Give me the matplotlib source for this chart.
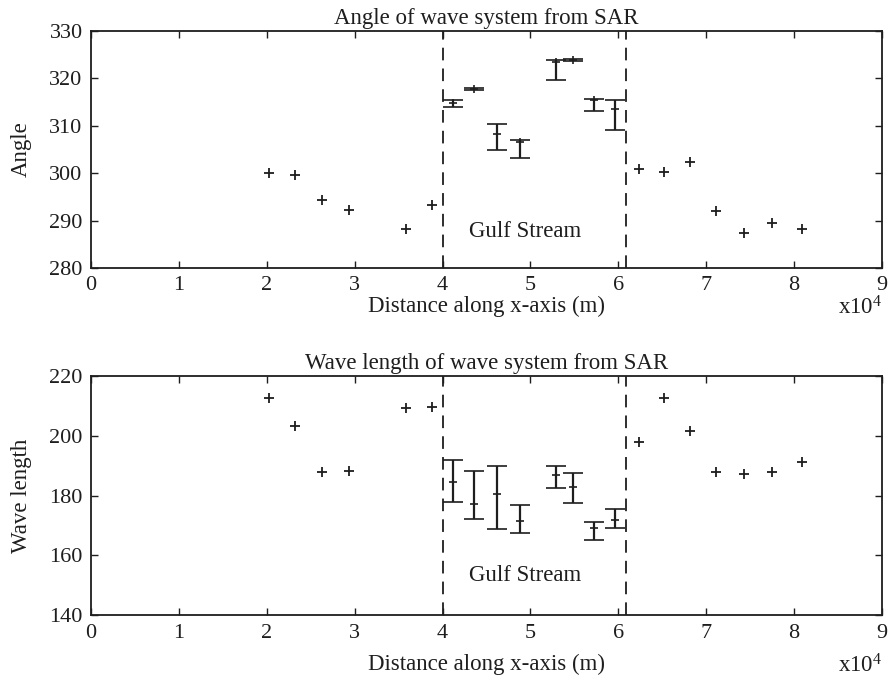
import matplotlib
matplotlib.use('Agg')

import matplotlib.pyplot as plt
import numpy as np
from matplotlib import rcParams

rcParams['font.family'] = 'serif'
rcParams['font.serif'] = ['Liberation Serif', 'DejaVu Serif']
rcParams['mathtext.fontset'] = 'custom'
rcParams['mathtext.rm'] = 'Liberation Serif'

# Distance along track, in units of 1e4 m
x_out = [2.02, 2.32, 2.63, 2.94, 3.58, 3.88, 6.24, 6.52, 6.81, 7.11, 7.43, 7.75, 8.09]
x_gs = [4.12, 4.36, 4.62, 4.88, 5.29, 5.48, 5.72, 5.96]

# Angle of wave system (deg)
angle_out = [300.1, 299.7, 294.4, 292.3, 288.2, 293.3, 300.8, 300.2, 302.3, 292.0, 287.3, 289.5, 288.3]
angle_gs = [314.7, 317.8, 308.3, 306.5, 323.4, 323.8, 315.3, 313.5]
angle_gs_lo = [314.0, 317.6, 304.9, 303.2, 319.6, 323.6, 313.0, 309.0]
angle_gs_hi = [315.3, 318.0, 310.4, 307.0, 323.8, 324.0, 315.7, 315.3]

# Wave length (m)
length_out = [212.7, 203.3, 188.0, 188.2, 209.2, 209.5, 198.0, 212.5, 201.7, 188.0, 187.1, 187.8, 191.3]
length_gs = [184.6, 177.2, 180.5, 171.5, 187.0, 183.0, 169.3, 171.8]
length_gs_lo = [178.0, 172.2, 168.8, 167.4, 182.6, 177.4, 165.2, 169.1]
length_gs_hi = [191.9, 188.3, 190.0, 176.9, 189.9, 187.7, 171.1, 175.5]

# Gulf Stream edges (1e4 m)
gs_edges = [4.0, 6.09]

x_ticks = np.arange(0, 10)
angle_ticks = np.arange(280, 331, 10)
length_ticks = np.arange(140, 221, 20)

FONT = 16.5
TICK_FONT = 16
INK = '#1e1e1e'


def draw_panel(ax, title, ylabel, y_out, y_gs, y_lo, y_hi, ylim, yticks,
               label_y, xlabel_y):
    ax.plot(x_out, y_out, '+', color=INK, markersize=7, markeredgewidth=1.3)
    y_gs = np.array(y_gs)
    yerr = [y_gs - np.array(y_lo), np.array(y_hi) - y_gs]
    ax.errorbar(x_gs, y_gs, yerr=yerr, fmt='+', color=INK, markersize=6,
                markeredgewidth=1.2, elinewidth=1.6, capsize=7.5, capthick=1.6)

    for xe in gs_edges:
        ax.axvline(xe, color=INK, lw=1.3, linestyle=(0, (7, 4.5)))
    ax.text(np.mean(gs_edges) - 0.1, label_y, 'Gulf Stream', fontsize=FONT,
            ha='center', va='center', color=INK)

    ax.set_xlim(0, 9)
    ax.set_ylim(*ylim)
    ax.set_xticks(x_ticks)
    ax.set_yticks(yticks)
    ax.tick_params(direction='in', length=5, width=1.0, top=True, right=True,
                   labelsize=TICK_FONT, pad=6, colors=INK)
    for spine in ax.spines.values():
        spine.set_linewidth(1.3)
        spine.set_color(INK)

    ax.set_title(title, fontsize=FONT, pad=5, color=INK)
    ax.set_ylabel(ylabel, fontsize=FONT, color=INK)
    ax.yaxis.set_label_coords(-0.075, 0.5)
    ax.set_xlabel('Distance along x-axis (m)', fontsize=FONT, color=INK)
    ax.xaxis.set_label_coords(0.5, xlabel_y)
    ax.text(1.0, xlabel_y, r'$\mathrm{x10^4}$', transform=ax.transAxes,
            fontsize=FONT, ha='right', va='top', color=INK)


fig = plt.figure(figsize=(8.93, 6.82), dpi=100)
ax_top = fig.add_axes([0.1019, 0.607, 0.8858, 0.348])
ax_bot = fig.add_axes([0.1019, 0.0978, 0.8858, 0.351])

draw_panel(ax_top, 'Angle of wave system from SAR', 'Angle',
           angle_out, angle_gs, angle_gs_lo, angle_gs_hi,
           (280, 330), angle_ticks, 287.6, -0.118)
draw_panel(ax_bot, 'Wave length of wave system from SAR', 'Wave length',
           length_out, length_gs, length_gs_lo, length_gs_hi,
           (140, 220), length_ticks, 153.4, -0.162)

fig.savefig('out.png', dpi=100)
